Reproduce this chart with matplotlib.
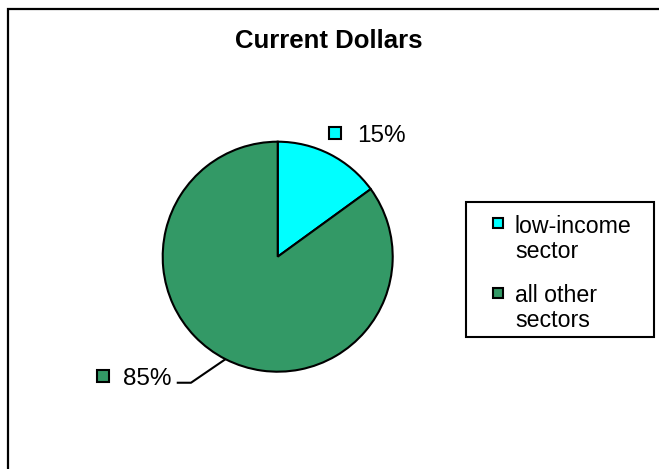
import matplotlib
matplotlib.use("Agg")
import matplotlib.pyplot as plt
from matplotlib.patches import Rectangle
import numpy as np

plt.rcParams["font.family"] = ["Liberation Sans", "DejaVu Sans"]

# Share of current dollars
sectors = ["low-income\nsector", "all other\nsectors"]
shares = [15, 85]
colors = ["#00FFFF", "#339966"]
title = "Current Dollars"

W, H = 659, 469
fig = plt.figure(figsize=(W / 100, H / 100), dpi=100)


def px(x, y):
    """Pixel position (top-left origin) to figure fraction."""
    return x / W, 1 - y / H


# outer chart frame, cut off at the right and bottom edges
fig.add_artist(Rectangle(px(8, 480), (W + 20) / W, (480 - 9) / H,
                         transform=fig.transFigure, fill=False,
                         edgecolor="black", linewidth=1.6))

# title
tx, ty = px(328.5, 48.3)
fig.text(tx, ty, title, ha="center", va="baseline", fontsize=18.5,
         fontweight="bold")

# pie
cx, cy, r = 277.7, 256.7, 115
ax = fig.add_axes([(cx - r) / W, (H - cy - r) / H, 2 * r / W, 2 * r / H])
wedges, _ = ax.pie(shares, colors=colors, startangle=90, counterclock=False,
                   radius=1,
                   wedgeprops=dict(edgecolor="black", linewidth=1.5))
ax.set_xlim(-1, 1)
ax.set_ylim(-1, 1)
ax.set_aspect("equal")
ax.axis("off")

# data labels (label anchor given in pie units: marker x, text x, baseline y)
label_pos = [(0.498, 0.687, 1.0), (-1.519, -1.345, -1.114)]
for w, val, col, (mx, tx_, by) in zip(wedges, shares, colors, label_pos):
    ax.plot([mx], [by + 0.076], marker="s", ms=8.3, mfc=col, mec="black",
            mew=1.5, clip_on=False)
    ax.text(tx_, by, f"{val}%", ha="left", va="baseline", fontsize=17.5,
            clip_on=False)

# leader line for the large slice
w = wedges[1]
mid = np.deg2rad((w.theta1 + w.theta2) / 2)
ex, ey = np.cos(mid), np.sin(mid)
ax.plot([ex, -0.754, -0.878], [ey, -1.096, -1.096], color="black", lw=1.5,
        clip_on=False, solid_capstyle="butt")

# legend box
x0, y0 = px(466, 337)
x1, y1 = px(654, 202)
fig.add_artist(Rectangle((x0, y0), x1 - x0, y1 - y0, transform=fig.transFigure,
                         fill=False, edgecolor="black", linewidth=1.5))
entry_top = [233, 302]
for lab, col, base in zip(sectors, colors, entry_top):
    mxp, myp = px(498, base - 9.5)
    fig.add_artist(plt.Line2D([mxp], [myp], marker="s", ms=7.8, mfc=col,
                              mec="black", mew=1.5,
                              transform=fig.transFigure))
    for j, line in enumerate(lab.split("\n")):
        lx, ly = px(515, base + 25 * j)
        fig.text(lx, ly, line, ha="left", va="baseline", fontsize=16.7)

fig.savefig("out.png", dpi=100)
